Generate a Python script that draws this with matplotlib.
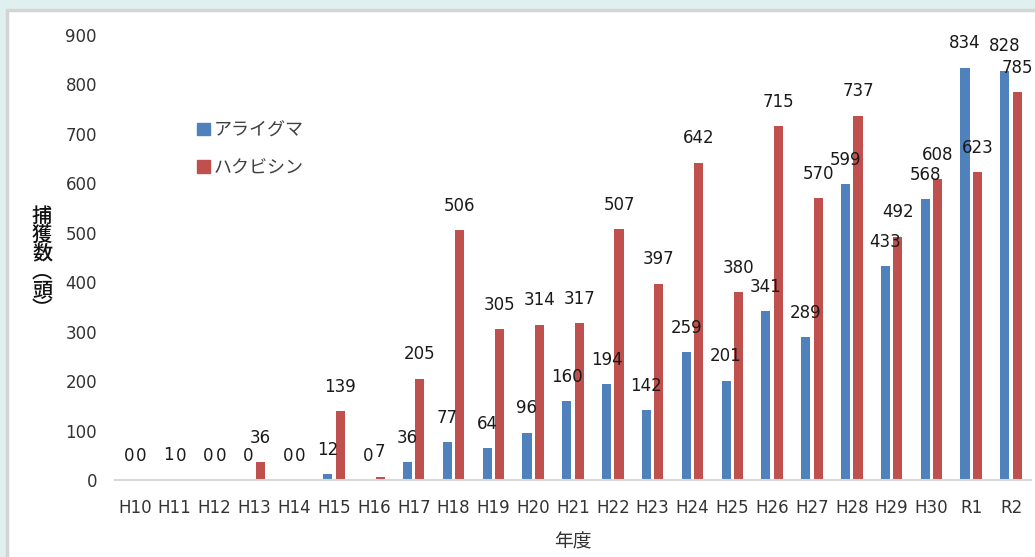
import matplotlib
matplotlib.use("Agg")
import matplotlib.pyplot as plt
import numpy as np
from matplotlib.patches import Rectangle, Patch

plt.rcParams['font.family'] = ['DejaVu Sans', 'Noto Sans CJK JP']

categories = ["H10", "H11", "H12", "H13", "H14", "H15", "H16", "H17", "H18", "H19",
              "H20", "H21", "H22", "H23", "H24", "H25", "H26", "H27", "H28", "H29",
              "H30", "R1", "R2"]
araiguma = [0, 1, 0, 0, 0, 12, 0, 36, 77, 64, 96, 160, 194, 142, 259, 201, 341, 289,
            599, 433, 568, 834, 828]
hakubishin = [0, 0, 0, 36, 0, 139, 7, 205, 506, 305, 314, 317, 507, 397, 642, 380, 715,
              570, 737, 492, 608, 623, 785]
series_names = ["アライグマ", "ハクビシン"]
y_ticks = [0, 100, 200, 300, 400, 500, 600, 700, 800, 900]

W, H = 1035, 557
fig = plt.figure(figsize=(W / 100, H / 100), dpi=100)
fig.patch.set_facecolor("#dff0ee")
# white panel with grey border
fig.patches.append(Rectangle((7 / W, -0.05), 1.1, (H - 10) / H + 0.05,
                             transform=fig.transFigure, facecolor="white",
                             edgecolor="#d4d4d4", linewidth=2.5, zorder=-10))

ax = fig.add_axes([115 / W, 1 - 480 / H, (1031 - 115) / W, (480 - 35) / H])
ax.set_facecolor("none")

x = np.arange(len(categories))
bw = 0.23
off = 0.156
blue = "#4F81BD"
red = "#C0504D"
b1 = ax.bar(x - off, araiguma, bw, color=blue, label=series_names[0], zorder=2)
b2 = ax.bar(x + off, hakubishin, bw, color=red, label=series_names[1], zorder=2)

for bars, vals in ((b1, araiguma), (b2, hakubishin)):
    for r, v in zip(bars, vals):
        ax.annotate(str(v), (r.get_x() + r.get_width() / 2, v), xytext=(0, 11),
                    textcoords="offset points", ha="center", va="bottom",
                    fontsize=12, color="#1a1a1a", zorder=3)

ax.set_xlim(-0.5, len(categories) - 0.5)
ax.set_ylim(0, 900)
ax.set_yticks(y_ticks)
ax.set_xticks(x)
ax.set_xticklabels(categories)
ax.tick_params(axis="both", length=0, labelsize=12, colors="#333333")
ax.tick_params(axis="y", pad=13)
ax.tick_params(axis="x", pad=14)
for s in ("left", "right", "top"):
    ax.spines[s].set_visible(False)
ax.spines["bottom"].set_color("#d9d9d9")
ax.spines["bottom"].set_linewidth(1.5)

ax.set_xlabel("年度", fontsize=13.5, color="#333333", labelpad=10,
              family=['Noto Sans CJK JP', 'DejaVu Sans'])
fig.text(42 / W, 1 - 263 / H, "\n".join(["捕", "獲", "数", "︵", "頭", "︶"]),
         fontsize=14.5, ha="center", va="center", color="#111111", linespacing=0.98,
         fontweight="medium", family=['Noto Sans CJK JP', 'DejaVu Sans'])

handles = [Patch(color=blue), Patch(color=red)]
leg = ax.legend(handles, series_names, loc="upper left",
                bbox_to_anchor=(181 / W, 1 - 105 / H), bbox_transform=fig.transFigure,
                frameon=False, handlelength=0.7, handleheight=0.7,
                handletextpad=0.2, labelspacing=1.1, labelcolor="#404040",
                prop={'family': ['Noto Sans CJK JP', 'DejaVu Sans'], 'size': 13})

fig.savefig("out.png", dpi=100, facecolor=fig.get_facecolor())
